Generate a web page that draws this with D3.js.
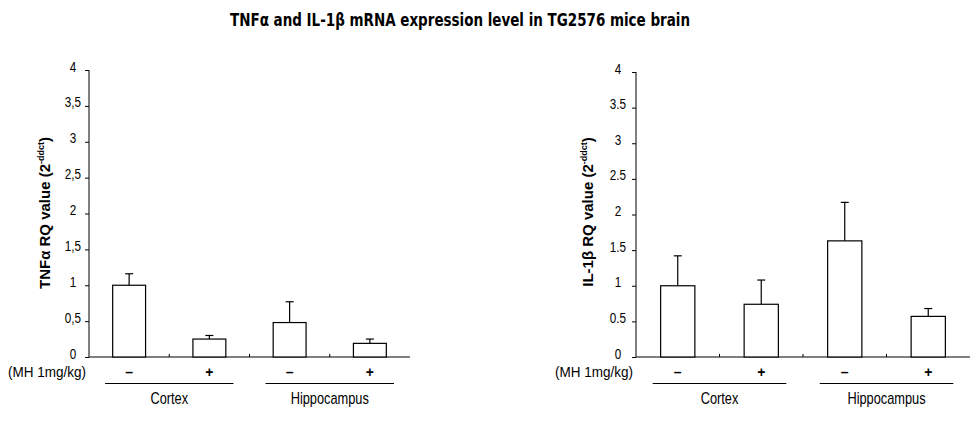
<!DOCTYPE html>
<html><head><meta charset="utf-8">
<script src="https://cdn.jsdelivr.net/npm/d3@7"></script>
<style>
body{margin:0;background:#fff;}
svg{display:block;}
text{fill:#000;}
</style></head>
<body><svg id="c" width="978" height="422"></svg>
<script>
const title = "TNFα and IL-1β mRNA expression level in TG2576 mice brain";
const groups = ["Cortex", "Hippocampus"];
const treatments = ["–", "+"];
const treatmentLabel = "(MH 1mg/kg)";
const categories = ["Cortex –", "Cortex +", "Hippocampus –", "Hippocampus +"];
const tnfValues = [1.0, 0.25, 0.48, 0.19];
const tnfErrors = [0.16, 0.05, 0.29, 0.06];
const il1Values = [1.0, 0.74, 1.63, 0.57];
const il1Errors = [0.42, 0.34, 0.54, 0.11];
const yTickValues = [0, 0.5, 1, 1.5, 2, 2.5, 3, 3.5, 4];
const tnfTickLabels = ["0", "0,5", "1", "1,5", "2", "2,5", "3", "3,5", "4"];
const il1TickLabels = ["0", "0.5", "1", "1.5", "2", "2.5", "3", "3.5", "4"];

const svg = d3.select("#c");
const font = '"DejaVu Sans Condensed","Liberation Sans",sans-serif';
const sans = '"Liberation Sans",Arial,sans-serif';

svg.append("text").attr("x", 460).attr("y", 26).attr("text-anchor", "middle")
  .attr("font-family", font).attr("font-weight", "bold").attr("font-size", 17)
  .attr("textLength", 460).attr("lengthAdjust", "spacingAndGlyphs").text(title);

function narrowText(parent, x, y, str, size, sx, anchor) {
  return parent.append("text").attr("transform", `translate(${x},${y}) scale(${sx},1)`)
    .attr("text-anchor", anchor || "middle").attr("font-family", sans).attr("font-size", size).text(str);
}

function panel(cfg) {
  const g = svg.append("g");
  const x = d3.scaleBand().domain(categories).range([cfg.x0, cfg.x1]).padding(0);
  const y = d3.scaleLinear().domain([0, 4]).range([357, cfg.yTop]);
  const bw = x.bandwidth() * 0.41;

  const yAxis = d3.axisLeft(y).tickValues(yTickValues).tickSize(4).tickFormat((d, i) => cfg.labels[i]);
  const ya = g.append("g").attr("transform", `translate(${cfg.x0},0)`).call(yAxis);
  ya.select(".domain").attr("stroke", "#000").attr("d", `M0,${y(4)}V${y(0)}`);
  ya.selectAll(".tick line").attr("stroke", "#000");
  ya.selectAll(".tick text").remove();
  yTickValues.forEach((v, i) => {
    narrowText(g, cfg.x0 - cfg.labelOff, y(v) + 1.5, cfg.labels[i], 15, 0.78);
  });

  const xa = d3.axisBottom(x).tickSize(0).tickFormat("");
  const xg = g.append("g").attr("transform", `translate(0,${y(0)})`).call(xa);
  xg.select(".domain").attr("stroke", "#000").attr("d", `M${cfg.x0},0H${cfg.x1}`);
  xg.selectAll(".tick").remove();
  categories.slice(1).forEach(c => {
    g.append("line").attr("x1", x(c)).attr("x2", x(c)).attr("y1", y(0)).attr("y2", y(0) - 3).attr("stroke", "#000");
  });

  const vals = cfg.values;
  g.selectAll("rect.bar").data(categories).join("rect")
    .attr("x", d => x(d) + x.bandwidth() / 2 - bw / 2)
    .attr("y", (d, i) => y(vals[i]))
    .attr("width", bw).attr("height", (d, i) => y(0) - y(vals[i]))
    .attr("fill", "#fff").attr("stroke", "#000").attr("stroke-width", 1.2);
  categories.forEach((c, i) => {
    const cx = x(c) + x.bandwidth() / 2;
    const top = y(vals[i] + cfg.errors[i]);
    g.append("line").attr("x1", cx).attr("x2", cx).attr("y1", y(vals[i])).attr("y2", top).attr("stroke", "#000").attr("stroke-width", 1.2);
    g.append("line").attr("x1", cx - 4).attr("x2", cx + 4).attr("y1", top).attr("y2", top).attr("stroke", "#000").attr("stroke-width", 1.2);
  });

  categories.forEach((c, i) => {
    g.append("text").attr("x", x(c) + x.bandwidth() / 2).attr("y", 377).attr("text-anchor", "middle")
      .attr("font-family", sans).attr("font-weight", "bold").attr("font-size", 14).text(treatments[i % 2]);
  });
  g.append("text").attr("x", cfg.mhX).attr("y", 377).attr("text-anchor", "start")
    .attr("font-family", sans).attr("font-size", 14)
    .attr("textLength", 78).attr("lengthAdjust", "spacingAndGlyphs").text(treatmentLabel);

  groups.forEach((grp, gi) => {
    const c0 = x(categories[gi * 2]) + x.bandwidth() / 2;
    const c1 = x(categories[gi * 2 + 1]) + x.bandwidth() / 2;
    g.append("line").attr("x1", c0 - x.bandwidth() * 0.3).attr("x2", c1 + x.bandwidth() * 0.3)
      .attr("y1", 383.5).attr("y2", 383.5).attr("stroke", "#000").attr("stroke-width", 1.2);
    narrowText(g, (c0 + c1) / 2, 404, grp, 16, 0.8);
  });

  const yl = g.append("text").attr("transform", `translate(${cfg.ylX},${cfg.ylY}) rotate(-90)`)
    .attr("text-anchor", "middle").attr("font-family", sans)
    .attr("font-weight", "bold").attr("font-size", 15);
  yl.append("tspan").text(cfg.yName + " RQ value (2");
  yl.append("tspan").attr("font-size", 9).attr("dy", -6).text("-ddct");
  yl.append("tspan").attr("dy", 6).text(")");
}

panel({x0: 89, x1: 410, yTop: 70, values: tnfValues, errors: tnfErrors, labels: tnfTickLabels,
       labelOff: 16, mhX: 8, ylX: 50, ylY: 213, yName: "TNFα"});
panel({x0: 636, x1: 970, yTop: 72, values: il1Values, errors: il1Errors, labels: il1TickLabels,
       labelOff: 18, mhX: 555, ylX: 593, ylY: 212, yName: "IL-1β"});
</script></body></html>
